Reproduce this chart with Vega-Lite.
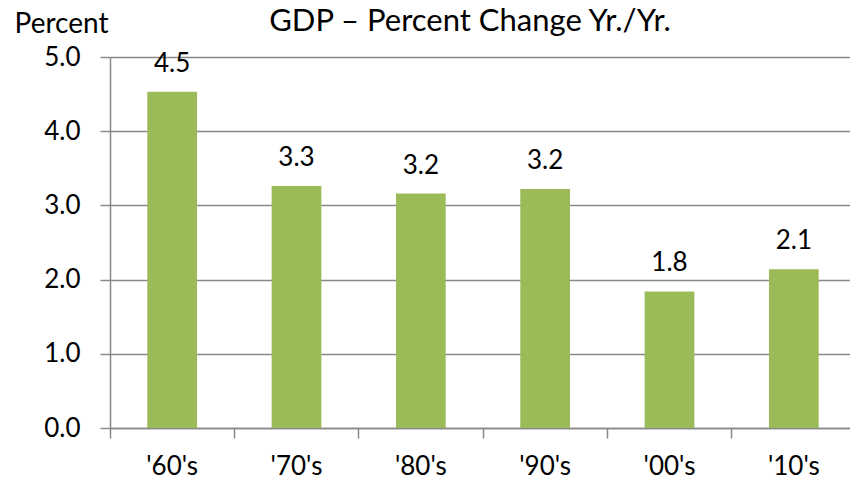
{
  "$schema": "https://vega.github.io/schema/vega-lite/v6.json",
  "width": 740,
  "height": 371,
  "autosize": {"type": "none"},
  "padding": {"left": 110, "top": 57, "right": 0, "bottom": 51},
  "background": "white",
  "config": {
    "view": {"stroke": null},
    "font": "Lato",
    "axis": {"labelFont": "Lato", "titleFont": "Lato"}
  },
  "title": {
    "text": "GDP – Percent Change Yr./Yr.",
    "font": "Lato",
    "fontSize": 31,
    "fontWeight": "normal",
    "color": "#000000",
    "anchor": "middle",
    "baseline": "alphabetic",
    "dx": -10,
    "offset": 0,
    "dy": 52
  },
  "data": {
    "values": [
      {"decade": "'60's", "growth": 4.53},
      {"decade": "'70's", "growth": 3.26},
      {"decade": "'80's", "growth": 3.16},
      {"decade": "'90's", "growth": 3.22},
      {"decade": "'00's", "growth": 1.84},
      {"decade": "'10's", "growth": 2.14}
    ]
  },
  "encoding": {
    "x": {
      "field": "decade",
      "type": "nominal",
      "sort": null,
      "scale": {"range": [0, 746], "paddingInner": 0, "paddingOuter": 0},
      "axis": {
        "title": null,
        "labelAngle": 0,
        "labelFontSize": 26,
        "labelColor": "#000000",
        "labelBaseline": "alphabetic",
        "labelPadding": 36,
        "bandPosition": 0,
        "tickSize": 10,
        "tickColor": "#898989",
        "tickWidth": 1.5,
        "domainColor": "#898989",
        "domainWidth": 1.5,
        "grid": false
      }
    },
    "y": {
      "field": "growth",
      "type": "quantitative",
      "scale": {"domain": [0, 5], "nice": false},
      "axis": {
        "values": [0, 1, 2, 3, 4, 5],
        "format": ".1f",
        "labelFontSize": 26,
        "labelColor": "#000000",
        "labelPadding": 20,
        "tickSize": 10,
        "tickColor": "#898989",
        "tickWidth": 1.5,
        "domainColor": "#898989",
        "domainWidth": 1.5,
        "grid": true,
        "gridColor": "#898989",
        "gridWidth": 1.5,
        "title": "Percent",
        "titleAngle": 0,
        "titleFontSize": 28,
        "titleFontWeight": "normal",
        "titleColor": "#000000",
        "titleAlign": "center",
        "titleBaseline": "alphabetic",
        "titleX": -49,
        "titleY": -25
      }
    }
  },
  "layer": [
    {
      "mark": {"type": "bar", "color": "#9BBB59", "width": {"band": 0.4}}
    },
    {
      "mark": {"type": "text", "fontSize": 26, "color": "#000000", "baseline": "alphabetic", "dy": -20},
      "encoding": {
        "text": {"field": "growth", "type": "quantitative", "format": ".1f"}
      }
    }
  ]
}
